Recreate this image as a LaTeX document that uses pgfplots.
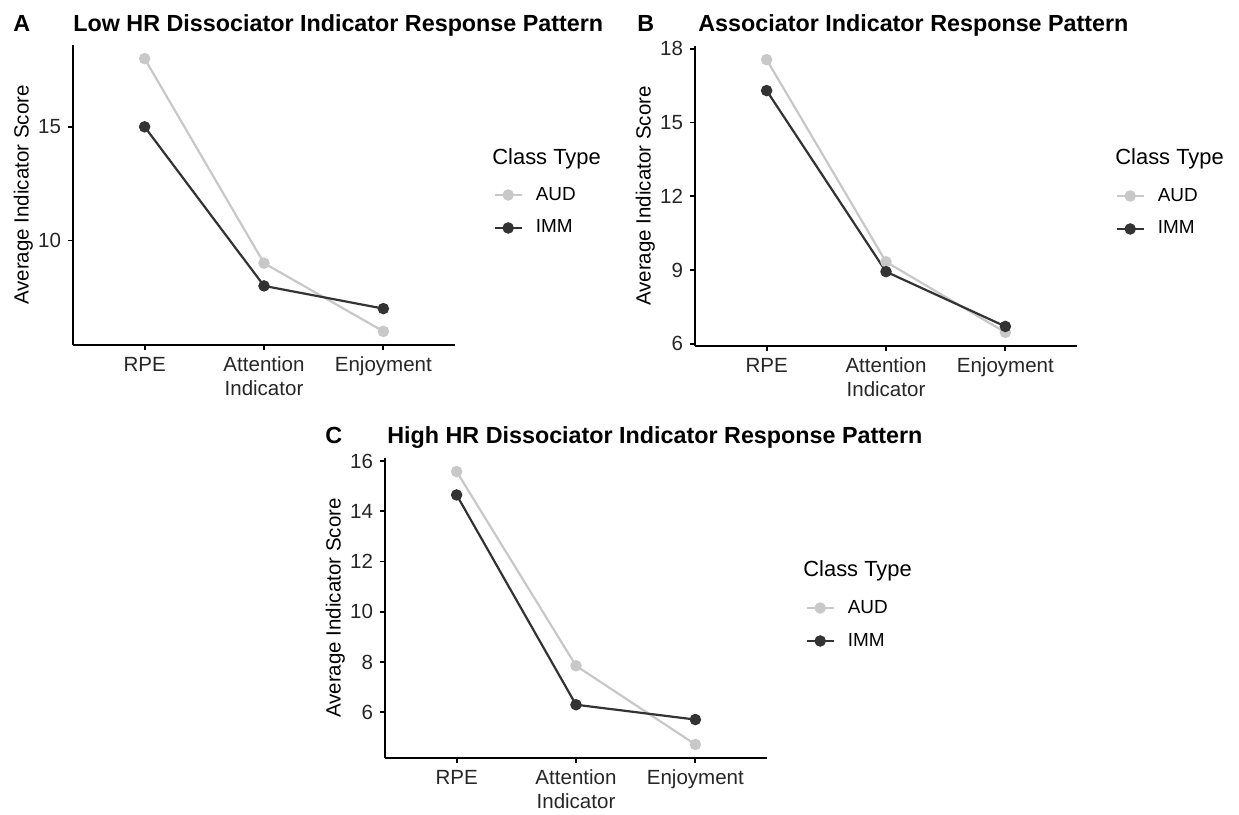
\documentclass[border=0pt]{standalone}
\usepackage{fontspec}
\setmainfont{Liberation Sans}
\usepackage{pgfplots}
\pgfplotsset{compat=1.18}
\definecolor{audc}{HTML}{C8C8C8}
\definecolor{immc}{HTML}{333333}
\pgfplotsset{
 panel/.style={
   scale only axis, width=191bp, height=150bp,
   axis x line*=bottom, axis y line*=left,
   axis line style={line width=0.9bp, black},
   xmin=0.4, xmax=3.6,
   xtick={1,2,3},
   xticklabels={RPE,{Attention\\Indicator},Enjoyment},
   xticklabel style={align=center, font=\fontsize{10.3}{11.7}\selectfont, text=black!85},
   yticklabel style={font=\fontsize{10.3}{12}\selectfont, text=black!85},
   /pgf/number format/assume math mode=true,
   tick align=outside, major tick length=2.5bp,
   tick style={line width=0.9bp, black},
   ylabel={Average Indicator Score},
   ylabel style={font=\fontsize{10.3}{12}\selectfont, at={(axis description cs:-0.13,0.5)}, anchor=center},
   clip=false,
   legend style={at={(1.1,0.445)}, anchor=west, draw=none, fill=none,
     font=\fontsize{9.5}{11}\selectfont, row sep=4.5bp, inner sep=0pt,
     /tikz/every odd column/.append style={column sep=4.5bp}},
   legend cell align=left,
   legend image code/.code={\draw[mark repeat=2,mark phase=2,#1] plot coordinates {(0bp,0bp) (6.75bp,0bp) (13.5bp,0bp)};},
 },
 audp/.style={color=audc, line width=1.1bp, mark=*, mark size=2.3bp, mark options={solid, fill=audc}},
 immp/.style={color=immc, line width=1.1bp, mark=*, mark size=2.3bp, mark options={solid, fill=immc}},
}
\begin{document}
\begin{tikzpicture}
\path[use as bounding box] (0,0) rectangle (619.5bp,407.5bp);
% Panel A
\begin{axis}[panel, at={(36.5bp,235bp)}, anchor=south west,
  ymin=5.4, ymax=18.6, ytick={10,15}]
\addplot[audp] coordinates {(1,18) (2,9) (3,6)};
\addplot[immp] coordinates {(1,15) (2,8) (3,7)};
\legend{AUD,IMM}
\end{axis}
% Panel B
\begin{axis}[panel, at={(347.5bp,234.5bp)}, anchor=south west,
  ymin=5.905, ymax=18.115, ytick={6,9,12,15,18}]
\addplot[audp] coordinates {(1,17.56) (2,9.33) (3,6.46)};
\addplot[immp] coordinates {(1,16.30) (2,8.93) (3,6.70)};
\legend{AUD,IMM}
\end{axis}
% Panel C
\begin{axis}[panel, at={(192.5bp,28.5bp)}, anchor=south west,
  ymin=4.18, ymax=16.12, ytick={6,8,10,12,14,16}]
\addplot[audp] coordinates {(1,15.58) (2,7.85) (3,4.72)};
\addplot[immp] coordinates {(1,14.65) (2,6.30) (3,5.71)};
\legend{AUD,IMM}
\end{axis}
% titles and panel letters
\begin{scope}[every node/.style={font=\bfseries\fontsize{11.7}{13}\selectfont, inner sep=0pt}]
\node[anchor=base west] at (6.5bp,391.5bp) {A};
\node[anchor=base west] at (36.5bp,391.5bp) {Low HR Dissociator Indicator Response Pattern};
\node[anchor=base west] at (318.5bp,391.5bp) {B};
\node[anchor=base west] at (349bp,391.5bp) {Associator Indicator Response Pattern};
\node[anchor=base west] at (162.5bp,185.5bp) {C};
\node[anchor=base west] at (193.5bp,185.5bp) {High HR Dissociator Indicator Response Pattern};
\end{scope}
\begin{scope}[every node/.style={font=\fontsize{11}{13}\selectfont, inner sep=0pt}]
\node[anchor=west] at (246bp,328bp) {Class Type};
\node[anchor=west] at (557.5bp,328bp) {Class Type};
\node[anchor=west] at (401.5bp,122bp) {Class Type};
\end{scope}
\end{tikzpicture}
\end{document}
